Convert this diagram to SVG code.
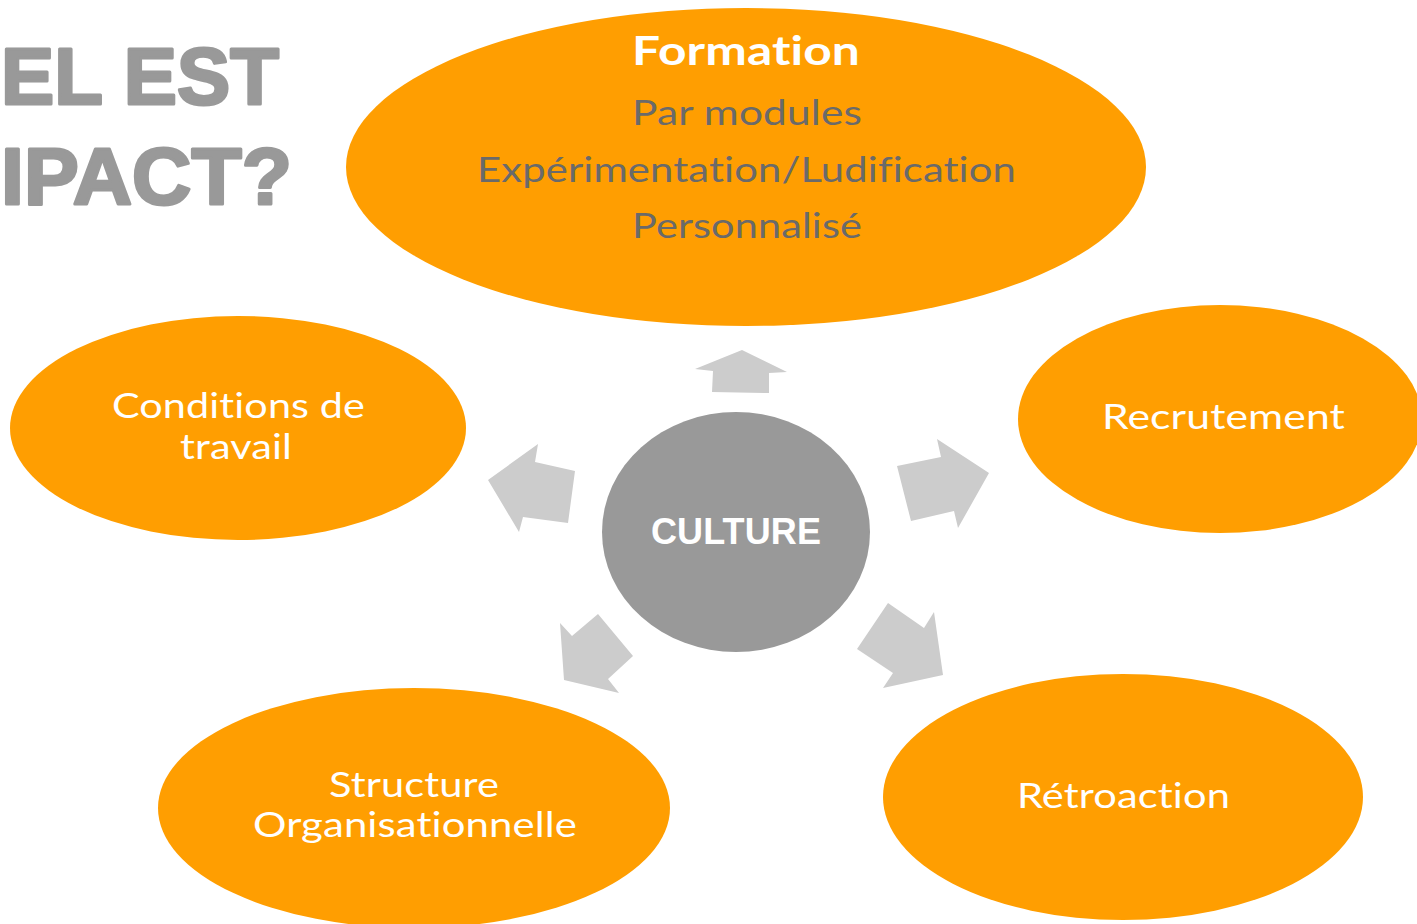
<svg xmlns="http://www.w3.org/2000/svg" width="1417" height="924" viewBox="0 0 1417 924">
<style>
.node{fill:#FF9E01}
.hub{fill:#999999}
.arr{fill:#CCCCCC}
text{font-variant-ligatures:none;font-feature-settings:"liga" 0,"clig" 0,"dlig" 0;letter-spacing:0.1px}
.t{font-family:Lato,"Open Sans",sans-serif;font-size:34px;fill:#FFFFFF;text-anchor:middle}
.g{font-family:Lato,"Open Sans",sans-serif;font-size:35px;fill:#6A6A6A;text-anchor:middle}
.b{font-family:Lato,"Open Sans",sans-serif;font-size:40px;font-weight:bold;fill:#FFFFFF;text-anchor:middle}
.title{font-family:"Liberation Sans",Arial,sans-serif;font-size:80px;font-weight:bold;fill:#999999;stroke:#999999;stroke-width:3;stroke-linejoin:round}
</style>
<rect width="1417" height="924" fill="#FFFFFF"/>
<g id="title">
<text class="title" x="1" y="104" textLength="278" lengthAdjust="spacingAndGlyphs">EL EST</text>
<text class="title" x="1" y="204" textLength="291" lengthAdjust="spacingAndGlyphs">IPACT?</text>
</g>
<g id="connectors">
<polygon class="arr" points="742,350 787,372 769,373 769,393 712,392 713,371 695,369"/>
<polygon class="arr" points="488,480 538,444 535,462 575,471 568,523 523,517 519,532"/>
<polygon class="arr" points="989,473 958,528 954,511 911,521 897,466 941,457 937,439"/>
<polygon class="arr" points="564,680 560,623 572,636 598,614 633,656 608,679 619,693"/>
<polygon class="arr" points="943,675 883,688 893,673 857,649 888,603 924,628 934,612"/>
</g>
<g id="formation">
<ellipse class="node" cx="746" cy="167" rx="400" ry="159"/>
<text class="b" x="746" y="65" textLength="228" lengthAdjust="spacingAndGlyphs">Formation</text>
<text class="g" x="747" y="125" textLength="230" lengthAdjust="spacingAndGlyphs">Par modules</text>
<text class="g" x="746.5" y="182" textLength="539" lengthAdjust="spacingAndGlyphs">Expérimentation/Ludification</text>
<text class="g" x="747" y="238" textLength="230" lengthAdjust="spacingAndGlyphs">Personnalisé</text>
</g>
<g id="conditions">
<ellipse class="node" cx="238" cy="428" rx="228" ry="112"/>
<text class="t" x="238.5" y="418" textLength="253" lengthAdjust="spacingAndGlyphs">Conditions de</text>
<text class="t" x="236" y="459" textLength="112" lengthAdjust="spacingAndGlyphs">travail</text>
</g>
<g id="recrutement">
<ellipse class="node" cx="1220" cy="419" rx="202" ry="114"/>
<text class="t" x="1223.5" y="429" textLength="243" lengthAdjust="spacingAndGlyphs">Recrutement</text>
</g>
<g id="structure">
<ellipse class="node" cx="414" cy="808" rx="256" ry="120"/>
<text class="t" x="414" y="797" textLength="170" lengthAdjust="spacingAndGlyphs">Structure</text>
<text class="t" x="415" y="837" textLength="324" lengthAdjust="spacingAndGlyphs">Organisationnelle</text>
</g>
<g id="retroaction">
<ellipse class="node" cx="1123" cy="797" rx="240" ry="123"/>
<text class="t" x="1123.5" y="808" textLength="213" lengthAdjust="spacingAndGlyphs">Rétroaction</text>
</g>
<g id="culture">
<ellipse class="hub" cx="736" cy="532" rx="134" ry="120"/>
<text x="736" y="544" font-family="Liberation Sans,Arial,sans-serif" font-size="36" font-weight="bold" fill="#FFFFFF" text-anchor="middle">CULTURE</text>
</g>
</svg>
